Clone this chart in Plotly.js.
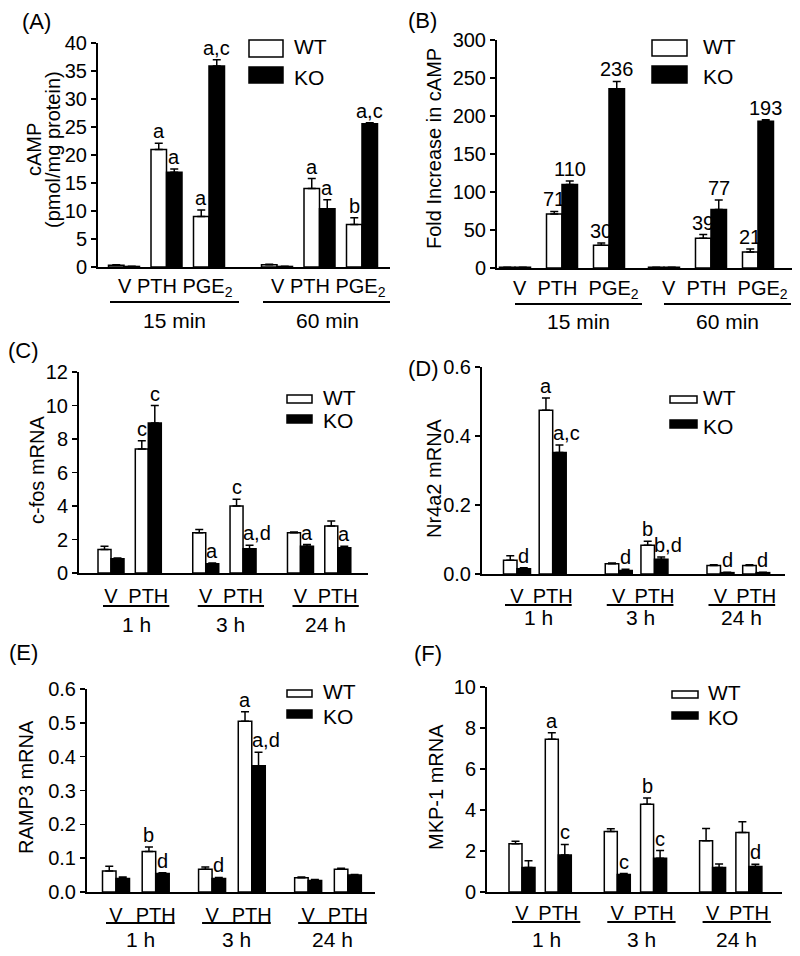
<!DOCTYPE html>
<html><head><meta charset="utf-8">
<script src="https://cdn.plot.ly/plotly-3.0.1.min.js"></script>
<style>html,body{margin:0;padding:0;background:#fff}</style>
</head><body><div id="chart" style="width:800px;height:956px"></div>
<script>
// ---------------- DATA ----------------
// (A) cAMP (pmol/mg protein)
const catsA = ["V", "PTH", "PGE<sub>2</sub>"];
const timesA = ["15 min", "60 min"];
const wtA = [0.3, 21.0, 9.0, 0.4, 14.0, 7.6];
const wtErrA = [0.1, 1.1, 1.2, 0.1, 1.8, 1.2];
const koA = [0.1, 16.9, 35.9, 0.1, 10.4, 25.6];
const koErrA = [0.05, 0.6, 1.1, 0.05, 1.6, 0.15];
const wtLabA = ["", "a", "a", "", "a", "b"];
const koLabA = ["", "a", "a,c", "", "a", "a,c"];

// (B) Fold increase in cAMP
const catsB = ["V", "PTH", "PGE<sub>2</sub>"];
const timesB = ["15 min", "60 min"];
const wtB = [1, 71, 30, 1, 39, 21];
const wtErrB = [0, 3.5, 3, 0, 5, 4];
const koB = [1, 110, 236, 1, 77, 193];
const koErrB = [0, 4.5, 9.5, 0, 12.5, 2];
const wtLabB = ["", "71", "30", "", "39", "21"];
const koLabB = ["", "110", "236", "", "77", "193"];

// (C) c-fos mRNA
const catsC = ["V", "PTH"];
const timesC = ["1 h", "3 h", "24 h"];
const wtC = [1.4, 7.4, 2.4, 4.0, 2.4, 2.8];
const wtErrC = [0.2, 0.5, 0.2, 0.4, 0.05, 0.3];
const koC = [0.85, 8.95, 0.55, 1.45, 1.6, 1.5];
const koErrC = [0.05, 1.05, 0.05, 0.2, 0.1, 0.1];
const wtLabC = ["", "c", "", "c", "", ""];
const koLabC = ["", "c", "a", "a,d", "a", "a"];

// (D) Nr4a2 mRNA
const catsD = ["V", "PTH"];
const timesD = ["1 h", "3 h", "24 h"];
const wtD = [0.04, 0.475, 0.03, 0.083, 0.025, 0.025];
const wtErrD = [0.013, 0.035, 0.002, 0.012, 0.002, 0.002];
const koD = [0.015, 0.352, 0.01, 0.043, 0.004, 0.004];
const koErrD = [0.003, 0.022, 0.004, 0.006, 0.001, 0.001];
const wtLabD = ["", "a", "", "b", "", ""];
const koLabD = ["d", "a,c", "d", "b,d", "d", "d"];

// (E) RAMP3 mRNA
const catsE = ["V", "PTH"];
const timesE = ["1 h", "3 h", "24 h"];
const wtE = [0.062, 0.12, 0.067, 0.505, 0.042, 0.067];
const wtErrE = [0.014, 0.013, 0.007, 0.028, 0.002, 0.003];
const koE = [0.04, 0.055, 0.04, 0.373, 0.034, 0.05];
const koErrE = [0.004, 0.002, 0.003, 0.04, 0.003, 0.002];
const wtLabE = ["", "b", "", "a", "", ""];
const koLabE = ["", "d", "d", "a,d", "", ""];

// (F) MKP-1 mRNA
const catsF = ["V", "PTH"];
const timesF = ["1 h", "3 h", "24 h"];
const wtF = [2.35, 7.45, 2.95, 4.28, 2.5, 2.9];
const wtErrF = [0.13, 0.32, 0.13, 0.3, 0.6, 0.53];
const koF = [1.2, 1.8, 0.85, 1.65, 1.2, 1.25];
const koErrF = [0.32, 0.52, 0.05, 0.37, 0.16, 0.1];
const wtLabF = ["", "a", "", "b", "", ""];
const koLabF = ["", "c", "c", "c", "", "d"];

const seriesNames = ["WT", "KO"];

// ---------------- LAYOUT CONFIG (pixels) ----------------
const W = 800, H = 956;
const FONT = "Liberation Sans, Arial, Helvetica, sans-serif";
const FS = 20;
const panels = [
  {letter:"(A)", ytitle:["cAMP", "(pmol/mg protein)"], cats:catsA, times:timesA, wt:wtA, wtE:wtErrA, ko:koA, koE:koErrA, wtL:wtLabA, koL:koLabA,
   L:98, R:390, T:43, B:267, ymax:40, dtick:5, fmt:"", first:124, unit:42.5, gap:1.6, bw:15.5, ul:[-14,30], commaLeft:false,
   rowAnn:true, rowSep:" ", rowShift:9, tickY:287, ulY:302, grpY:320, leg:{x0:249,x1:283,wt:[40,57],ko:[67,83],tx:292}, yt:{x:[34,53],y:150}, lp:{x:20,y:22}},
  {letter:"(B)", ytitle:["Fold Increase in cAMP"], cats:catsB, times:timesB, wt:wtB, wtE:wtErrB, ko:koB, koE:koErrB, wtL:wtLabB, koL:koLabB,
   L:497, R:792, T:40, B:268, ymax:300, dtick:50, fmt:"", first:515, unit:47, gap:1.17, bw:15.5, ul:[0,33], commaLeft:false,
   rowAnn:true, rowSep:"\u00a0 ", rowShift:14, tickY:289, ulY:304, grpY:321, leg:{x0:652,x1:687,wt:[40,56],ko:[66,83],tx:701}, yt:{x:[434],y:149}, lp:{x:406,y:20}},
  {letter:"(C)", ytitle:["c-fos mRNA"], cats:catsC, times:timesC, wt:wtC, wtE:wtErrC, ko:koC, koE:koErrC, wtL:wtLabC, koL:koLabC,
   L:79, R:368, T:372, B:573, ymax:12, dtick:2, fmt:"", first:111, unit:37.3, gap:1.54, bw:13, ul:[-8,21], commaLeft:true,
   rowAnn:false, tickY:593, ulY:606, grpY:624, leg:{x0:287,x1:312,wt:[395,403],ko:[415,423],tx:321}, yt:{x:[37],y:470}, lp:{x:6,y:350}},
  {letter:"(D)", ytitle:["Nr4a2 mRNA"], cats:catsD, times:timesD, wt:wtD, wtE:wtErrD, ko:koD, koE:koErrD, wtL:wtLabD, koL:koLabD,
   L:482, R:785, T:367, B:574, ymax:0.6, dtick:0.2, fmt:".1f", first:517, unit:35.7, gap:1.85, bw:13.5, ul:[-12,19], commaLeft:true,
   rowAnn:false, tickY:593, ulY:605, grpY:617, leg:{x0:670,x1:697,wt:[396,403],ko:[420,428],tx:701}, yt:{x:[434],y:478}, lp:{x:406,y:368}},
  {letter:"(E)", ytitle:["RAMP3 mRNA"], cats:catsE, times:timesE, wt:wtE, wtE:wtErrE, ko:koE, koE:koErrE, wtL:wtLabE, koL:koLabE,
   L:87, R:375, T:689, B:892, ymax:0.6, dtick:0.1, fmt:".1f", first:116, unit:39.7, gap:1.42, bw:13.5, ul:[-10,19], commaLeft:true,
   rowAnn:false, tickY:912, ulY:923, grpY:939, leg:{x0:287,x1:312,wt:[690,697],ko:[710,718],tx:321}, yt:{x:[26],y:787}, lp:{x:7,y:652}},
  {letter:"(F)", ytitle:["MKP-1 mRNA"], cats:catsF, times:timesF, wt:wtF, wtE:wtErrF, ko:koF, koE:koErrF, wtL:wtLabF, koL:koLabF,
   L:487, R:782, T:687, B:892, ymax:10, dtick:2, fmt:"", first:522, unit:36.3, gap:1.625, bw:13, ul:[-10,22], commaLeft:true,
   rowAnn:false, tickY:910, ulY:922, grpY:939, leg:{x0:672,x1:698,wt:[691,698],ko:[712,719],tx:706}, yt:{x:[436],y:787}, lp:{x:412,y:653}}
];

const px = v => v / W;
const py = v => 1 - v / H;

const data = [], shapes = [], annotations = [];
const layout = {
  width: W, height: H, margin: {l:0, r:0, t:0, b:0},
  paper_bgcolor: "#fff", plot_bgcolor: "rgba(0,0,0,0)",
  barmode: "overlay", showlegend: false,
  font: {family: FONT, size: FS, color: "#000"},
  shapes: shapes, annotations: annotations
};

panels.forEach((p, i) => {
  const k = i === 0 ? "" : String(i + 1);
  const xa = "x" + k, ya = "y" + k;
  const m = p.cats.length;
  const pos = [], tickText = [], groupFirst = [], groupLast = [];
  p.times.forEach((t, g) => {
    for (let c = 0; c < m; c++) {
      const v = g * ((m - 1) + p.gap) + c;
      pos.push(v); tickText.push(p.cats[c]);
      if (c === 0) groupFirst.push(v);
      if (c === m - 1) groupLast.push(v);
    }
  });
  const bw = p.bw / p.unit;
  const zeros = pos.map(() => 0);

  const common = {type: "bar", xaxis: xa, yaxis: ya, width: bw, showlegend: false, hoverinfo: "skip"};
  data.push(Object.assign({}, common, {
    name: seriesNames[0], x: pos, y: p.wt, offset: -bw,
    marker: {color: "#fff", line: {color: "#000", width: 1.5}},
    error_y: {type: "data", symmetric: false, array: p.wtE, arrayminus: zeros, color: "#000", thickness: 1.5, width: 4}
  }));
  data.push(Object.assign({}, common, {
    name: seriesNames[1], x: pos, y: p.ko, offset: 0,
    marker: {color: "#000", line: {color: "#000", width: 1.5}},
    error_y: {type: "data", symmetric: false, array: p.koE, arrayminus: zeros, color: "#000", thickness: 1.5, width: 4}
  }));

  layout["xaxis" + k] = {
    domain: [px(p.L), px(p.R)], anchor: ya,
    range: [(p.L - p.first) / p.unit, (p.R - p.first) / p.unit],
    showgrid: false, zeroline: false, showline: true, linecolor: "#000", linewidth: 2,
    ticks: "", tickvals: pos, ticktext: tickText, showticklabels: !p.rowAnn, tickangle: 0,
    tickfont: {size: FS, family: FONT, color: "#000"},
    ticklabelstandoff: Math.max(0, (p.tickY - p.B) - 16),
    fixedrange: true
  };
  layout["yaxis" + k] = {
    domain: [py(p.B), py(p.T)], anchor: xa, range: [0, p.ymax],
    dtick: p.dtick, tick0: 0, tickformat: p.fmt,
    showgrid: false, zeroline: false, showline: true, linecolor: "#000", linewidth: 2,
    ticks: "outside", ticklen: 5, tickwidth: 1.5, tickcolor: "#000",
    tickfont: {size: FS, family: FONT, color: "#000"}, fixedrange: true
  };

  // value/significance labels above bars
  pos.forEach((v, j) => {
    if (p.wtL[j]) annotations.push({xref: xa, yref: ya, x: v - bw / 2, y: p.wt[j] + p.wtE[j],
      text: p.wtL[j], showarrow: false, yanchor: "bottom", xanchor: "center", yshift: -1, font: {size: FS}});
    if (p.koL[j]) {
      const left = p.commaLeft && p.koL[j].indexOf(",") >= 0;
      annotations.push({xref: xa, yref: ya, x: left ? v : v + bw / 2, y: p.ko[j] + p.koE[j],
        text: p.koL[j], showarrow: false, yanchor: "bottom", xanchor: left ? "left" : "center",
        xshift: left ? -2 : 0, yshift: -1, font: {size: FS}});
    }
  });

  // group underlines + group labels (+ category row where drawn as text)
  p.times.forEach((t, g) => {
    const x0 = groupFirst[g] + p.ul[0] / p.unit;
    const x1 = groupLast[g] + p.ul[1] / p.unit;
    shapes.push({type: "line", xref: xa, yref: "paper", x0: x0, x1: x1, y0: py(p.ulY), y1: py(p.ulY),
      line: {color: "#000", width: 2}});
    annotations.push({xref: xa, yref: "paper", x: (x0 + x1) / 2, y: py(p.grpY), text: t,
      showarrow: false, xanchor: "center", yanchor: "middle", font: {size: FS + 1}});
    if (p.rowAnn) {
      const row = [];
      for (let c = 0; c < m; c++) row.push(p.cats[c]);
      annotations.push({xref: xa, yref: "paper", x: (groupFirst[g] + groupLast[g]) / 2, xshift: p.rowShift,
        y: py(p.tickY), text: row.join(p.rowSep), showarrow: false, xanchor: "center", yanchor: "middle", font: {size: FS}});
    }
  });

  // legend (drawn boxes + labels)
  const lg = p.leg;
  shapes.push({type: "rect", xref: "paper", yref: "paper", x0: px(lg.x0), x1: px(lg.x1), y0: py(lg.wt[1]), y1: py(lg.wt[0]),
    fillcolor: "#fff", line: {color: "#000", width: 1.5}});
  shapes.push({type: "rect", xref: "paper", yref: "paper", x0: px(lg.x0), x1: px(lg.x1), y0: py(lg.ko[1]), y1: py(lg.ko[0]),
    fillcolor: "#000", line: {color: "#000", width: 1.5}});
  annotations.push({xref: "paper", yref: "paper", x: px(lg.tx), y: py((lg.wt[0] + lg.wt[1]) / 2 - 2), text: seriesNames[0],
    showarrow: false, xanchor: "left", yanchor: "middle", font: {size: 21}});
  annotations.push({xref: "paper", yref: "paper", x: px(lg.tx), y: py((lg.ko[0] + lg.ko[1]) / 2 + 2), text: seriesNames[1],
    showarrow: false, xanchor: "left", yanchor: "middle", font: {size: 21}});

  // y-axis title (one annotation per line)
  p.ytitle.forEach((line, li) => {
    annotations.push({xref: "paper", yref: "paper", x: px(p.yt.x[li]), y: py(p.yt.y), text: line, textangle: -90,
      showarrow: false, xanchor: "center", yanchor: "middle", font: {size: FS}});
  });
  // panel letter
  annotations.push({xref: "paper", yref: "paper", x: px(p.lp.x), y: py(p.lp.y), text: p.letter,
    showarrow: false, xanchor: "left", yanchor: "middle", font: {size: 22}});
});

Plotly.newPlot("chart", data, layout, {staticPlot: true, displayModeBar: false});
</script>
</body></html>
